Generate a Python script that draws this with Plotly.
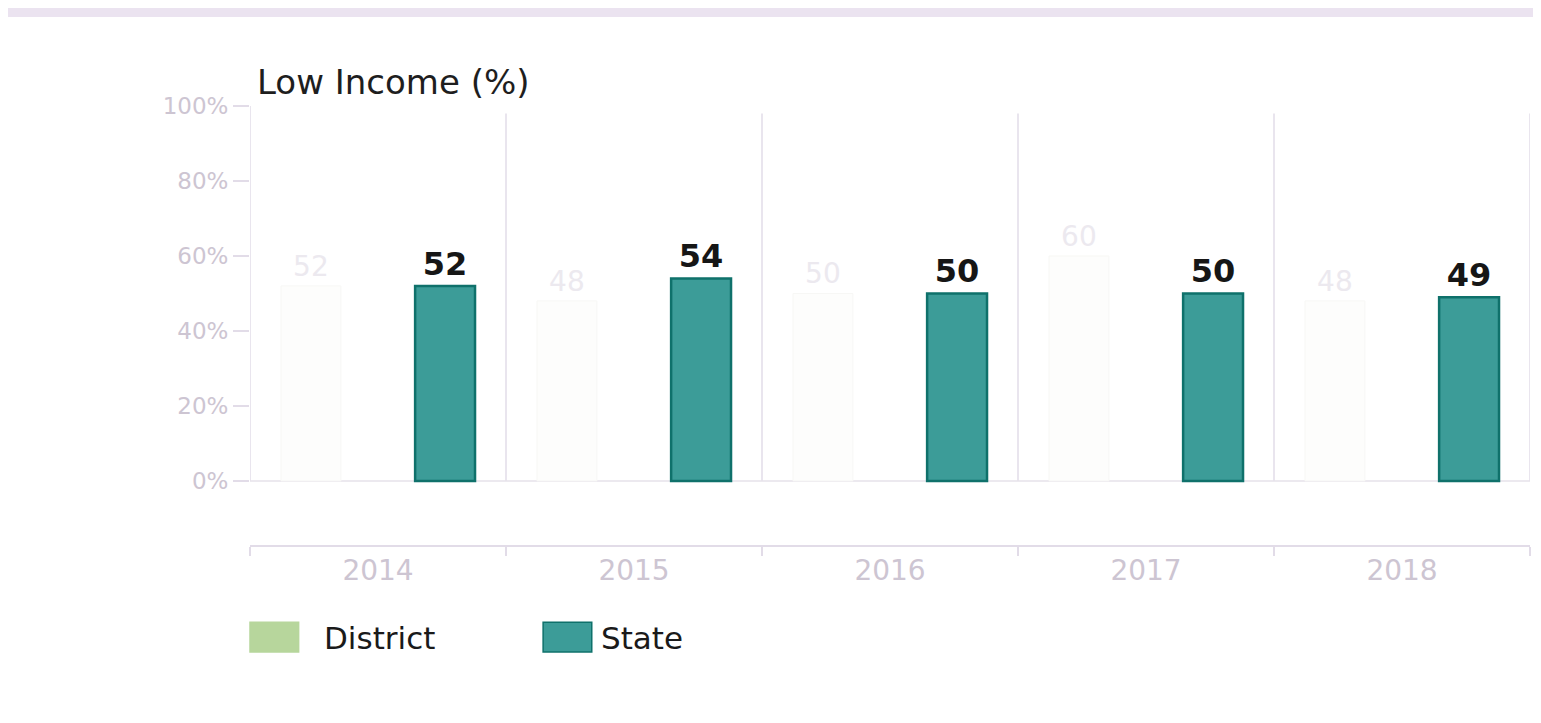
import plotly.graph_objects as go

# Data
years = ["2014", "2015", "2016", "2017", "2018"]
district = [52, 48, 50, 60, 48]
state = [52, 54, 50, 50, 49]
y_ticks = [0, 20, 40, 60, 80, 100]
y_tick_labels = ["0%", "20%", "40%", "60%", "80%", "100%"]

FONT = "DejaVu Sans"
TICK_GREY = "#cdc5d2"
LINE_GREY = "#e2dce8"

fig = go.Figure()

# District bars are washed out in the reference (almost white)
fig.add_trace(go.Bar(
    x=years, y=district, name="District",
    marker=dict(color="#fdfdfc", line=dict(color="#f7f7f5", width=1)),
    width=0.234, offset=-0.379,
    text=[str(v) for v in district], textposition="outside",
    textfont=dict(family=FONT, size=28, color="#ece9ef"),
    cliponaxis=False,
))

fig.add_trace(go.Bar(
    x=years, y=state, name="State",
    marker=dict(color="#3c9c98", line=dict(color="#0f716b", width=2.5)),
    width=0.234, offset=0.145,
    text=[str(v) for v in state], textposition="outside",
    textfont=dict(family=FONT, size=32, color="#161616", weight="bold"),
    cliponaxis=False,
))

# vertical separators between years, left axis line and zero baseline
for i in range(len(years) + 1):
    fig.add_shape(type="line", xref="x", yref="y",
                  x0=i - 0.5, x1=i - 0.5, y0=0, y1=100 if i == 0 else 98,
                  line=dict(color=LINE_GREY, width=1.5), layer="below")
fig.add_shape(type="line", xref="x", yref="y", x0=-0.5, x1=len(years) - 0.5,
              y0=0, y1=0, line=dict(color="#e6e2ea", width=1.5), layer="below")

# photo frame tint around the page
fig.add_shape(type="rect", xref="paper", yref="paper",
              x0=-0.19, x1=1.02, y0=-0.42, y1=1.2027,
              fillcolor="white", line=dict(width=0), layer="below")

# title
fig.add_annotation(text="Low Income (%)", xref="paper", yref="paper",
                   x=0.004, y=1.055, xanchor="left", yanchor="middle",
                   showarrow=False,
                   font=dict(family=FONT, size=34, color="#1e1e1e"))

# custom legend with wide swatches
legend_items = [("District", "#b7d69c", "#b7d69c", 0.0, 0.056),
                ("State", "#3c9c98", "#0f716b", 0.229, 0.273)]
for label, fill, edge, sx, tx in legend_items:
    fig.add_shape(type="rect", xref="paper", yref="paper",
                  x0=sx, x1=sx + 0.038, y0=-0.244, y1=-0.176,
                  fillcolor=fill, line=dict(color=edge, width=1.5))
    fig.add_annotation(text=label, xref="paper", yref="paper",
                       x=tx, y=-0.212, xanchor="left", yanchor="middle",
                       showarrow=False,
                       font=dict(family=FONT, size=31, color="#1a1a1a"))

fig.update_layout(
    width=1525, height=707,
    margin=dict(l=242, r=3, t=98, b=170),
    paper_bgcolor="#ebe3f0",
    plot_bgcolor="white",
    showlegend=False,
    barmode="overlay",
    font=dict(family=FONT),
    xaxis=dict(
        type="category", range=[-0.5, len(years) - 0.5],
        showgrid=False, showline=True, linecolor=LINE_GREY, linewidth=1.5,
        tickson="boundaries", ticks="outside", ticklen=9,
        tickcolor=LINE_GREY, tickwidth=1.5,
        tickfont=dict(family=FONT, size=28, color=TICK_GREY),
        zeroline=False,
    ),
    yaxis=dict(
        range=[-17.1, 100], tickvals=y_ticks, ticktext=y_tick_labels,
        showgrid=False, showline=False, zeroline=False,
        ticks="outside", ticklen=16, tickcolor=LINE_GREY, tickwidth=1.5,
        tickfont=dict(family=FONT, size=23, color=TICK_GREY),
    ),
)

fig.write_html("out.html")
